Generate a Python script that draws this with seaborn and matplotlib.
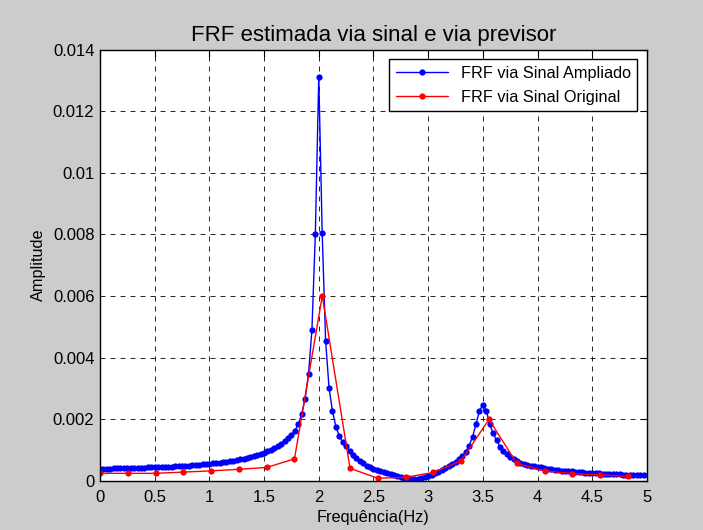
import numpy as np
import pandas as pd
import matplotlib
matplotlib.use("Agg")
import matplotlib.pyplot as plt
import seaborn as sns

# FRF estimated from the extended signal (fine frequency grid, 1/32 Hz)
df_ampliado = 1 / 32
amp_ampliado = [
    0.00039, 0.00039, 0.00039, 0.00039, 0.00040, 0.00040, 0.00040, 0.00040,
    0.00041, 0.00041, 0.00041, 0.00042, 0.00042, 0.00042, 0.00043, 0.00043,
    0.00044, 0.00044, 0.00045, 0.00045, 0.00046, 0.00046, 0.00047, 0.00047,
    0.00048, 0.00049, 0.00049, 0.00050, 0.00051, 0.00052, 0.00053, 0.00054,
    0.00055, 0.00056, 0.00057, 0.00058, 0.00060, 0.00061, 0.00063, 0.00065,
    0.00067, 0.00069, 0.00071, 0.00073, 0.00076, 0.00079, 0.00082, 0.00086,
    0.00090, 0.00095, 0.00100, 0.00106, 0.00113, 0.00120, 0.00129, 0.00138,
    0.00149, 0.00162, 0.00184, 0.00216, 0.00266, 0.00346, 0.00490, 0.00802,
    0.01312, 0.00804, 0.00455, 0.00302, 0.00226, 0.00176, 0.00145, 0.00125,
    0.00112, 0.00097, 0.00084, 0.00073, 0.00064, 0.00056, 0.00049, 0.00043,
    0.00038, 0.00034, 0.00030, 0.00027, 0.00024, 0.00021, 0.00018, 0.00015,
    0.00012, 0.00010, 0.00008, 0.00007, 0.00006, 0.00007, 0.00008, 0.00011,
    0.00014, 0.00019, 0.00024, 0.00029, 0.00034, 0.00041, 0.00048, 0.00054,
    0.00061, 0.00069, 0.00080, 0.00094, 0.00114, 0.00143, 0.00184, 0.00227,
    0.00246, 0.00227, 0.00184, 0.00154, 0.00132, 0.00110, 0.00096, 0.00087,
    0.00077, 0.00069, 0.00063, 0.00058, 0.00055, 0.00052, 0.00049, 0.00047,
    0.00045, 0.00043, 0.00041, 0.00039, 0.00037, 0.00035, 0.00034, 0.00033,
    0.00032, 0.00031, 0.00030, 0.00029, 0.00028, 0.00027, 0.00026, 0.00025,
    0.00025, 0.00024, 0.00024, 0.00023, 0.00023, 0.00022, 0.00022, 0.00021,
    0.00021, 0.00020, 0.00020, 0.00019, 0.00019, 0.00019, 0.00018, 0.00018,
]
freq_ampliado = np.arange(len(amp_ampliado)) * df_ampliado

# FRF estimated from the original signal (coarse grid)
freq_original = [
    0.0, 0.254, 0.508, 0.762, 1.016, 1.270, 1.524, 1.778, 2.032, 2.286,
    2.540, 2.794, 3.048, 3.302, 3.556, 3.810, 4.064, 4.318, 4.572, 4.826,
]
amp_original = [
    0.00024, 0.00024, 0.00024, 0.00028, 0.00032, 0.00037, 0.00043, 0.00071,
    0.00600, 0.00040, 0.00008, 0.00011, 0.00027, 0.00065, 0.00199, 0.00056,
    0.00032, 0.00023, 0.00019, 0.00014,
]

x_ticks = [0, 0.5, 1, 1.5, 2, 2.5, 3, 3.5, 4, 4.5, 5]
y_ticks = [0, 0.002, 0.004, 0.006, 0.008, 0.01, 0.012, 0.014]
y_ticklabels = ["0", "0.002", "0.004", "0.006", "0.008", "0.01", "0.012", "0.014"]

sns.set_style("white")
plt.rcParams["font.family"] = ["Liberation Sans", "DejaVu Sans"]
plt.rcParams["text.color"] = "black"
plt.rcParams["axes.labelcolor"] = "black"

fig = plt.figure(figsize=(7.03, 5.30), dpi=100, facecolor="#cccccc")
ax = fig.add_axes([0.1422, 0.093, 0.7781, 0.8136])
ax.set_facecolor("white")

sns.lineplot(
    x=freq_ampliado, y=amp_ampliado, ax=ax, color="blue", linewidth=1,
    marker="o", markersize=4.5, markeredgewidth=0, estimator=None,
    label="FRF via Sinal Ampliado",
)
sns.lineplot(
    x=freq_original, y=amp_original, ax=ax, color="red", linewidth=1,
    marker="o", markersize=4.5, markeredgewidth=0, estimator=None,
    label="FRF via Sinal Original",
)

ax.set_xlim(0, 5)
ax.set_ylim(0, 0.014)
ax.set_xticks(x_ticks)
ax.set_xticklabels([f"{t:g}" for t in x_ticks])
ax.set_yticks(y_ticks)
ax.set_yticklabels(y_ticklabels)
ax.tick_params(direction="in", length=5, width=0.8, labelsize=12, colors="black",
               top=True, right=True, pad=4)
ax.tick_params(axis="x", pad=7)
ax.grid(True, color="black", linestyle=(0, (6, 6)), linewidth=0.6)
for s in ax.spines.values():
    s.set_visible(True)
    s.set_color("black")
    s.set_linewidth(1.0)

ax.set_title("FRF estimada via sinal e via previsor", fontsize=16, pad=6,
             color="black")
ax.set_xlabel("Frequência(Hz)", fontsize=11.7, labelpad=3)
ax.set_ylabel("Amplitude", fontsize=11.7, labelpad=5)

leg = ax.legend(loc="upper right", fontsize=11.7, frameon=True, fancybox=False,
                framealpha=1, edgecolor="black", borderpad=0.4,
                handlelength=3.2, numpoints=1, borderaxespad=0.6,
                labelspacing=0.55)
leg.get_frame().set_linewidth(1.0)
for t in leg.get_texts():
    t.set_color("black")

plt.savefig("out.png", dpi=100, facecolor=fig.get_facecolor())
